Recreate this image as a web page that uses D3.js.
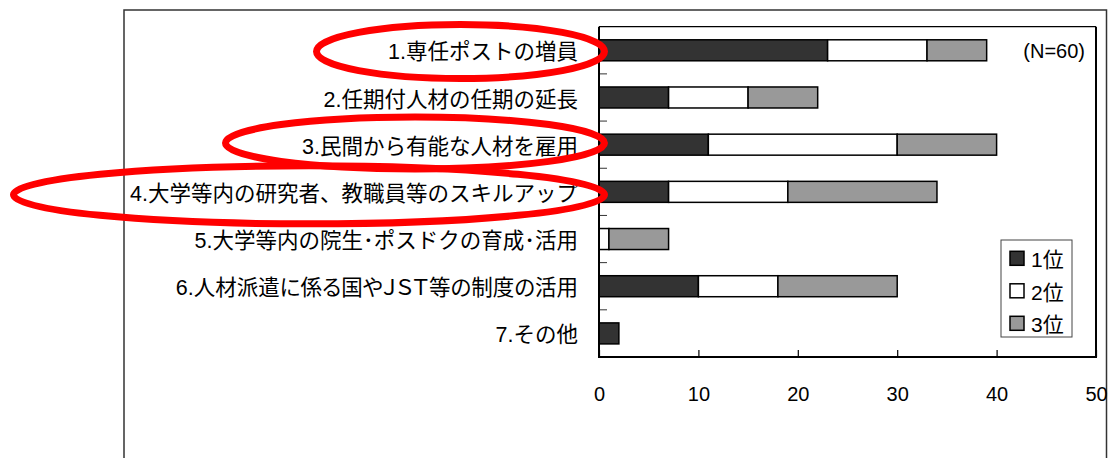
<!DOCTYPE html>
<html>
<head>
<meta charset="utf-8">
<script src="https://cdn.jsdelivr.net/npm/d3@7"></script>
<style>
  html, body { margin: 0; padding: 0; background: #fff; }
  svg { display: block; }
  text { font-family: "Liberation Sans", Arial, "Noto Sans CJK JP", sans-serif; fill: #000; }
</style>
</head>
<body>
<svg id="chart" width="1110" height="458"></svg>
<script>
// Survey answers: measures for securing staff, counted by rank (N=60)
const categories = [
  "1.専任ポストの増員",
  "2.任期付人材の任期の延長",
  "3.民間から有能な人材を雇用",
  "4.大学等内の研究者、教職員等のスキルアップ",
  "5.大学等内の院生･ポスドクの育成･活用",
  "6.人材派遣に係る国やＪＳＴ等の制度の活用",
  "7.その他"
];
const rank1 = [23, 7, 11, 7, 0, 10, 2];
const rank2 = [10, 8, 19, 12, 1, 8, 0];
const rank3 = [6, 7, 10, 15, 6, 12, 0];
const seriesNames = ["1位", "2位", "3位"];
const xTicks = [0, 10, 20, 30, 40, 50];
const sampleNote = "(N=60)";
// Items circled for emphasis
const highlighted = [
  { item: categories[0], cx: 460.5, rx: 144, ry: 27, dy: 1.2 },
  { item: categories[2], cx: 415, rx: 189.5, ry: 26, dy: -1.7 },
  { item: categories[3], cx: 309, rx: 295.5, ry: 29, dy: 3 }
];

const colors = ["#333333", "#ffffff", "#999999"];

const svg = d3.select("#chart");
const plot = { left: 599, right: 1096, top: 26.7, bottom: 357 };

const x = d3.scaleLinear().domain([0, 50]).range([plot.left, plot.right]);
const y = d3.scaleBand().domain(categories)
  .range([plot.top, plot.bottom])
  .paddingInner(0.555).paddingOuter(0.2775);

// Outer chart frame
svg.append("rect")
  .attr("x", 124).attr("y", 10)
  .attr("width", 1106.5 - 124).attr("height", 520)
  .attr("fill", "none").attr("stroke", "#333").attr("stroke-width", 1.5);

// Stacked bars
const table = categories.map((c, i) => ({ cat: c, r1: rank1[i], r2: rank2[i], r3: rank3[i] }));
const stacked = d3.stack().keys(["r1", "r2", "r3"])(table);

svg.append("g").selectAll("g")
  .data(stacked)
  .join("g")
  .attr("fill", (d, i) => colors[i])
  .selectAll("rect")
  .data(d => d.filter(s => s[1] - s[0] > 0))
  .join("rect")
  .attr("x", d => x(d[0]))
  .attr("y", d => y(d.data.cat))
  .attr("width", d => x(d[1]) - x(d[0]))
  .attr("height", y.bandwidth())
  .attr("stroke", "#000")
  .attr("stroke-width", 1.5);

// Category boundary ticks on the value axis side
const step = y.step();
const bounds = d3.range(1, categories.length).map(i => plot.top + i * step);
svg.append("g").selectAll("line")
  .data(bounds)
  .join("line")
  .attr("x1", plot.left).attr("x2", plot.left + 8)
  .attr("y1", d => d).attr("y2", d => d)
  .attr("stroke", "#333").attr("stroke-width", 1);

// Plot frame
svg.append("line").attr("x1", plot.left).attr("x2", plot.right)
  .attr("y1", plot.top).attr("y2", plot.top)
  .attr("stroke", "#000").attr("stroke-width", 1.2);
svg.append("path")
  .attr("d", `M${plot.left},${plot.top}V${plot.bottom}H${plot.right}V${plot.top}`)
  .attr("fill", "none").attr("stroke", "#000").attr("stroke-width", 2);

// Value axis
const xAxis = d3.axisBottom(x).tickValues(xTicks).tickFormat(d3.format("d"))
  .tickSizeInner(-7).tickSizeOuter(0).tickPadding(30);
const gx = svg.append("g").attr("transform", `translate(0,${plot.bottom})`).call(xAxis);
gx.select(".domain").remove();
gx.selectAll(".tick line").attr("stroke", "#000").attr("stroke-width", 1.2);
gx.selectAll(".tick text").attr("font-size", 20)
  .style("font-family", "'Liberation Sans', Arial, sans-serif");

// Category labels
const yAxis = d3.axisLeft(y).tickSize(0).tickPadding(21);
const gy = svg.append("g").attr("transform", `translate(${plot.left},0)`).call(yAxis);
gy.select(".domain").remove();
gy.selectAll(".tick text")
  .attr("font-size", 21.5)
  .attr("dy", "0.42em")
  // full-width latin letters set proportionally
  .style("font-feature-settings", d => /[Ａ-Ｚ]/.test(d) ? "'palt'" : null);

// Sample size note
svg.append("text")
  .attr("x", 1085).attr("y", 58)
  .attr("text-anchor", "end")
  .attr("font-size", 20)
  .text(sampleNote);

// Legend
const legend = svg.append("g");
legend.append("rect")
  .attr("x", 1001).attr("y", 240).attr("width", 71).attr("height", 97)
  .attr("fill", "#fff").attr("stroke", "#444").attr("stroke-width", 1);
const items = legend.selectAll("g.item")
  .data(seriesNames)
  .join("g").attr("class", "item")
  .attr("transform", (d, i) => `translate(1010,${258.3 + i * 32.5})`);
items.append("rect")
  .attr("x", 0).attr("y", -7).attr("width", 14).attr("height", 14)
  .attr("fill", (d, i) => colors[i]).attr("stroke", "#000").attr("stroke-width", 1.5);
items.append("text")
  .attr("x", 21).attr("dy", "0.42em")
  .attr("font-size", 21)
  .text(d => d);

// Red emphasis ellipses
svg.append("g").selectAll("ellipse")
  .data(highlighted)
  .join("ellipse")
  .attr("cx", d => d.cx)
  .attr("cy", d => y(d.item) + y.bandwidth() / 2 + d.dy)
  .attr("rx", d => d.rx)
  .attr("ry", d => d.ry)
  .attr("fill", "none")
  .attr("stroke", "#ff0000")
  .attr("stroke-width", 7);
</script>
</body>
</html>
